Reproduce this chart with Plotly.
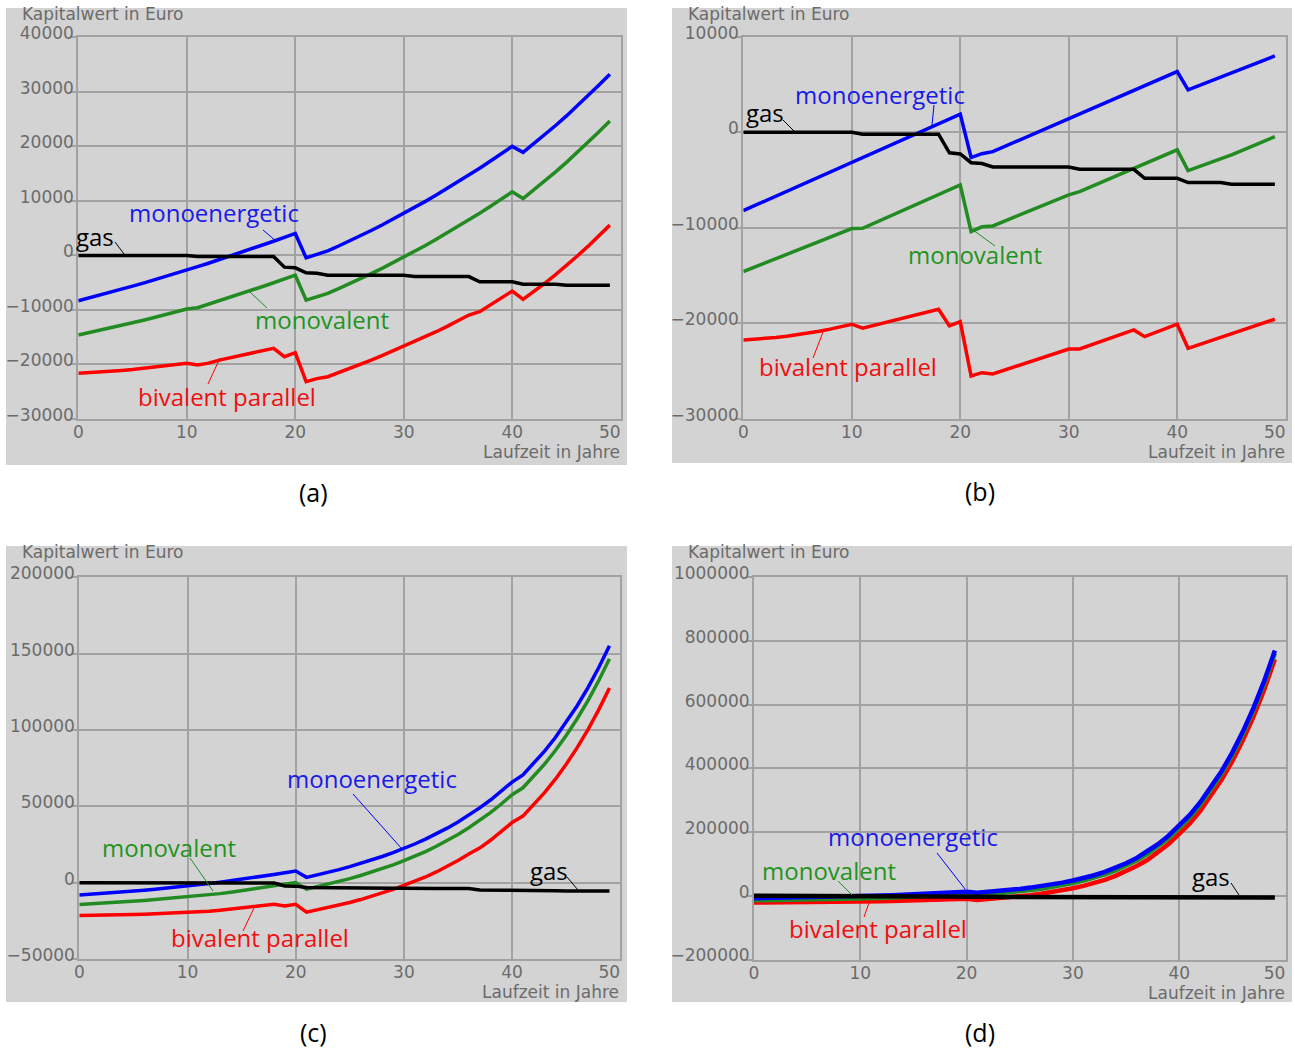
import plotly.graph_objects as go

# ---------------- data ----------------
years = list(range(50))
x_ticks = [0, 10, 20, 30, 40, 50]
x_ticktext = ["0", "10", "20", "30", "40", ""]
x_last_tick = [50]
x_last_text = ["50"]

gas = [0, 0, 0, 0, 0, 0, 0, 0, 0, 0, 0, -200, -200, -200, -200, -200, -200, -200, -200,
       -2150, -2270, -3190, -3280, -3640, -3640, -3640, -3640, -3640, -3640, -3640, -3640,
       -3880, -3880, -3880, -3880, -3880, -3880, -4830, -4830, -4830, -4830,
       -5270, -5270, -5270, -5270, -5450, -5450, -5450, -5450, -5450]

a_blue = [-8310, -7798, -7274, -6740, -6194, -5638, -5070, -4492, -3902, -3302, -2690, -2068, -1434, -790, -134,
          533, 1210, 1898, 2598, 3306, 4030, -450, 200, 840, 1730, 2649, 3598, 4577, 5585, 6623, 7691, 8788,
          9915, 11072, 12259, 13474, 14721, 15997, 17301, 18637, 20002, 18900, 20480, 22121, 23823, 25585,
          27408, 29291, 31235, 33239]
a_green = [-14600, -14174, -13736, -13288, -12828, -12358, -11876, -11384, -10880, -10366, -9840, -9598, -8976,
           -8344, -7700, -7045, -6380, -5704, -5016, -4320, -3610, -8190, -7560, -6960, -6102, -5216, -4299,
           -3352, -2377, -1371, -335, 729, 1824, 2949, 4103, 5286, 6501, 7744, 9016, 10320, 11652, 10440,
           12005, 13631, 15318, 17065, 18873, 20741, 22670, 24659]
a_red = [-21620, -21512, -21387, -21245, -21087, -20913, -20721, -20513, -20289, -20048, -19790, -20100, -19750,
         -19200, -18800, -18400, -17950, -17500, -17040, -18570, -17840, -23150, -22600, -22240, -21520, -20780,
         -20010, -19210, -18380, -17520, -16620, -15830, -14930, -13990, -13010, -11990, -10940, -10330, -9110,
         -7850, -6540, -8060, -6622, -5109, -3521, -1857, -117, 1697, 3587, 5553]

b_blue = [-8210, -7705, -7200, -6695, -6190, -5685, -5180, -4675, -4170, -3665, -3160, -2655, -2150, -1645, -1140,
          -635, -130, 375, 880, 1385, 1890, -2650, -2250, -2030, -1537, -1044, -551, -58, 435, 928, 1421, 1914,
          2407, 2900, 3393, 3886, 4379, 4872, 5365, 5858, 6351, 4430, 4880, 5320, 5760, 6180, 6630, 7080, 7530,
          7990]
b_green = [-14590, -14140, -13690, -13240, -12790, -12340, -11890, -11440, -10990, -10540, -10090, -10050, -9547,
           -9044, -8541, -8038, -7535, -7032, -6529, -6026, -5523, -10400, -9900, -9810, -9346, -8882, -8418,
           -7954, -7490, -7026, -6562, -6220, -5734, -5248, -4762, -4276, -3790, -3304, -2818, -2332, -1846,
           -4020, -3620, -3220, -2830, -2380, -1900, -1420, -940, -460]
b_red = [-21750, -21689, -21604, -21497, -21366, -21213, -21036, -20837, -20614, -20369, -20100, -20520, -20240,
         -19960, -19670, -19380, -19100, -18820, -18530, -20280, -19830, -25520, -25170, -25300, -24930, -24550,
         -24180, -23810, -23440, -23060, -22690, -22690, -22290, -21890, -21500, -21100, -20700, -21400, -20970,
         -20530, -20100, -22620, -22240, -21850, -21470, -21120, -20740, -20350, -19970, -19580]

c_blue = [-8040, -7590, -7110, -6600, -6060, -5490, -4890, -4260, -3600, -2900, -2170, -1400, -580, 290, 1210,
          2180, 3190, 4240, 5320, 6440, 7610, 3480, 5058, 6747, 8554, 10487, 12556, 14770, 17139, 19673, 22385,
          25317, 28498, 31949, 35694, 39757, 44165, 48948, 54138, 59769, 65879, 70600, 77993, 86125, 95070,
          104910, 115734, 127640, 140737, 155143]
c_green = [-14375, -13996, -13586, -13147, -12677, -12178, -11648, -11089, -10499, -9870, -9210, -8860, -8048,
           -7186, -6274, -5312, -4310, -3268, -2196, -1084, 80, -4265, -2647, -1043, 733, 2635, 4673, 6856, 9194,
           11697, 14380, 17217, 20379, 23811, 27537, 31581, 35970, 40734, 45905, 51517, 57609, 62145, 69523,
           77635, 86570, 96400, 107219, 119125, 132222, 146628]
c_red = [-21465, -21439, -21368, -21254, -21095, -20892, -20644, -20352, -20016, -19625, -19190, -19349, -18783,
         -18073, -17388, -16659, -15875, -15057, -14204, -15331, -14185, -19305, -17802, -16428, -14768, -12981,
         -11063, -9000, -6781, -4393, -1826, 706, 3727, 7023, 10613, 14532, 18795, 22648, 27765, 33331, 39382,
         43595, 50882, 58925, 67783, 77539, 88286, 100128, 113163, 127515]

d_blue = [-7800, -7350, -6864, -6339, -5772, -5160, -4499, -3785, -3014, -2181, -1282, -311, 738, 1871, 3095, 4416,
          5843, 7384, 9049, 10847, 12789, 9683, 12162, 14964, 18130, 21707, 25749, 30317, 35479, 41312, 47903,
          55614, 64636, 75192, 87543, 101993, 118900, 138681, 161825, 188903, 220585, 254086, 294541, 340255,
          391912, 450285, 516246, 590782, 675008, 770183]
d_green = [-14135, -13756, -13340, -12886, -12389, -11848, -11257, -10614, -9913, -9151, -8322, -7771, -6730,
           -5605, -4389, -3076, -1657, -124, 1533, 3323, 5259, 1938, 4457, 7174, 10309, 13855, 17866, 22403,
           27534, 33336, 39898, 47514, 56517, 67054, 79386, 93817, 110705, 130467, 153592, 180651, 212315,
           245631, 286071, 331765, 383412, 441775, 507731, 582267, 666493, 761668]
d_red = [-21225, -21199, -21122, -20993, -20807, -20562, -20253, -19877, -19430, -18906, -18302, -18260, -17465,
         -16492, -15503, -14423, -13222, -11913, -10475, -10924, -9006, -13102, -10698, -8211, -5192, -1761, 2130,
         6547, 11559, 17246, 23692, 31003, 39865, 50266, 62462, 76768, 93530, 112381, 135452, 162465, 194088,
         227081, 267430, 313055, 364625, 422914, 488798, 563270, 647434, 742555]

a_yticks = [-30000, -20000, -10000, 0, 10000, 20000, 30000, 40000]
b_yticks = [-30000, -20000, -10000, 0, 10000]
c_yticks = [-50000, 0, 50000, 100000, 150000, 200000]
d_yticks = [-200000, 0, 200000, 400000, 600000, 800000, 1000000]

series_names = ["bivalent parallel", "monovalent", "monoenergetic", "gas"]
panel_labels = ["(a)", "(b)", "(c)", "(d)"]
x_title = "Laufzeit in Jahre"
y_title = "Kapitalwert in Euro"

# ---------------- styling ----------------
W, H = 1295, 1052
BG = "#d3d3d3"
GRID = "#a2a2a2"
TICK_COLOR = "#6b6b6b"
TICK_FONT = dict(family="DejaVu Sans", size=17, color=TICK_COLOR)
LBL_FONT = "Open Sans"
LINE_COLORS = ["#ff0000", "#228b22", "#0000ff", "#000000"]
TEXT_COLORS = ["#ee1010", "#1f941f", "#1a1ae6", "#000000"]


def fx(x):
    return x / W


def fy(y):
    return 1 - y / H


panels = [
    dict(series=[a_red, a_green, a_blue, gas], yticks=a_yticks,
         xpx=(78.3, 620.7), ypx=(37.3, 419.0), bg=(6, 8, 627, 465), lab=(313, 492), lw=3.5,
         ann=[  # name index, text centre, pointer (x0,y0,x1,y1)
             (2, (214, 213), (263, 230, 276, 241)),
             (3, (95, 236), (115, 242, 124, 254)),
             (1, (322, 320), (250, 292, 267, 308)),
             (0, (227, 397), (208, 384, 220, 358)),
         ]),
    dict(series=[b_red, b_green, b_blue, gas], yticks=b_yticks,
         xpx=(743.3, 1285.7), ypx=(36.7, 418.8), bg=(672, 8, 1292, 463), lab=(980, 491), lw=3.5,
         ann=[
             (2, (880, 95), (934, 105, 932, 125)),
             (3, (765, 112), (783, 120, 795, 132)),
             (1, (975, 255), (973, 230, 995, 246)),
             (0, (848, 367), (813, 358, 823, 332)),
         ]),
    dict(series=[c_red, c_green, c_blue, gas], yticks=c_yticks,
         xpx=(79.3, 620.3), ypx=(577.3, 959.0), bg=(6, 546, 627, 1002), lab=(313, 1032), lw=3.5,
         ann=[
             (2, (372, 778), (353, 794, 402, 849)),
             (1, (169, 847), (190, 858, 213, 891)),
             (0, (260, 937), (243, 931, 254, 908)),
             (3, (549, 871), (567, 877, 578, 890)),
         ]),
    dict(series=[d_red, d_green, d_blue, gas], yticks=d_yticks,
         xpx=(754.0, 1285.5), ypx=(577.3, 959.5), bg=(672, 546, 1292, 1002), lab=(980, 1032), lw=4.5,
         ann=[
             (2, (913, 836), (937, 853, 965, 889)),
             (1, (829, 870), (838, 881, 852, 895)),
             (0, (878, 928), (864, 917, 870, 900)),
             (3, (1211, 876), (1231, 883, 1239, 895)),
         ]),
]

fig = go.Figure()
shapes = []
annotations = []
layout_axes = {}

for i, p in enumerate(panels, start=1):
    xa = "x" if i == 1 else f"x{i}"
    ya = "y" if i == 1 else f"y{i}"
    xo = f"x{i + 4}"  # overlay axis carrying the shifted last tick label
    x0, y0, x1, y1 = p["bg"]
    shapes.append(dict(type="rect", xref="paper", yref="paper", x0=fx(x0), x1=fx(x1), y0=fy(y1), y1=fy(y0),
                       fillcolor=BG, line=dict(width=0), layer="below"))
    for k, ys in enumerate(p["series"]):
        fig.add_trace(go.Scatter(x=years, y=ys, mode="lines", name=series_names[k], showlegend=False,
                                 line=dict(color=LINE_COLORS[k], width=p["lw"]), xaxis=xa, yaxis=ya,
                                 hoverinfo="skip"))
    fig.add_trace(go.Scatter(x=[], y=[], mode="lines", showlegend=False, xaxis=xo, yaxis=ya, hoverinfo="skip"))
    yt = p["yticks"]
    layout_axes["xaxis" if i == 1 else f"xaxis{i}"] = dict(
        domain=[fx(p["xpx"][0]), fx(p["xpx"][1])], range=[0, 50], tickmode="array", tickvals=x_ticks,
        ticktext=x_ticktext, automargin=False,
        showgrid=True, gridcolor=GRID, gridwidth=2, zeroline=False, showline=True, linecolor=GRID,
        linewidth=2, mirror=True, ticks="", tickfont=TICK_FONT, anchor=ya, fixedrange=True,
        ticklabelstandoff=-3)
    layout_axes[f"xaxis{i + 4}"] = dict(
        overlaying=xa, anchor=ya, side="bottom", range=[0, 50], tickmode="array", tickvals=x_last_tick,
        ticktext=x_last_text, automargin=False, showgrid=False, zeroline=False, showline=False, ticks="",
        tickfont=TICK_FONT, fixedrange=True, ticklabelstandoff=1, ticklabelshift=-11)
    layout_axes["yaxis" if i == 1 else f"yaxis{i}"] = dict(
        domain=[fy(p["ypx"][1]), fy(p["ypx"][0])], range=[yt[0], yt[-1]], tickmode="array", tickvals=yt,
        tickformat="d", automargin=False, showgrid=True, gridcolor=GRID,
        gridwidth=2, zeroline=False, showline=True, linecolor=GRID, linewidth=2, mirror=True,
        ticks="outside", ticklen=6, tickwidth=2, tickcolor=GRID, tickfont=TICK_FONT, anchor=xa,
        fixedrange=True, ticklabelshift=-4, ticklabelstandoff=-7)
    annotations.append(dict(text=y_title, xref="paper", yref="paper", x=fx(x0 + 14), y=fy(y0 + 6),
                            xanchor="left", yanchor="middle", showarrow=False,
                            font=dict(family="DejaVu Sans", size=17, color=TICK_COLOR)))
    annotations.append(dict(text=x_title, xref="paper", yref="paper", x=fx(p["xpx"][1] + 1),
                            y=fy(p["ypx"][1] + 33), xanchor="right", yanchor="middle", showarrow=False,
                            font=dict(family="DejaVu Sans", size=17, color=TICK_COLOR)))
    annotations.append(dict(text=panel_labels[i - 1], xref="paper", yref="paper", x=fx(p["lab"][0]),
                            y=fy(p["lab"][1]), xanchor="center", yanchor="middle", showarrow=False,
                            font=dict(family=LBL_FONT, size=25, color="#000000")))
    for k, (cx, cy), (lx0, ly0, lx1, ly1) in p["ann"]:
        annotations.append(dict(text=series_names[k], xref="paper", yref="paper", x=fx(cx), y=fy(cy),
                                xanchor="center", yanchor="middle", showarrow=False,
                                font=dict(family=LBL_FONT, size=24, color=TEXT_COLORS[k])))
        shapes.append(dict(type="line", xref="paper", yref="paper", x0=fx(lx0), y0=fy(ly0), x1=fx(lx1),
                           y1=fy(ly1), line=dict(color=LINE_COLORS[k], width=1), layer="above"))

fig.update_layout(
    template="none",
    width=W, height=H, autosize=False,
    margin=dict(l=0, r=0, t=0, b=0, pad=0, autoexpand=False),
    paper_bgcolor="#ffffff", plot_bgcolor=BG,
    shapes=shapes, annotations=annotations, showlegend=False,
    **layout_axes,
)

fig.write_html("out.html", include_plotlyjs=True, config={"displayModeBar": False},
               post_script="document.body.style.margin='0px';document.body.style.overflow='hidden';")
